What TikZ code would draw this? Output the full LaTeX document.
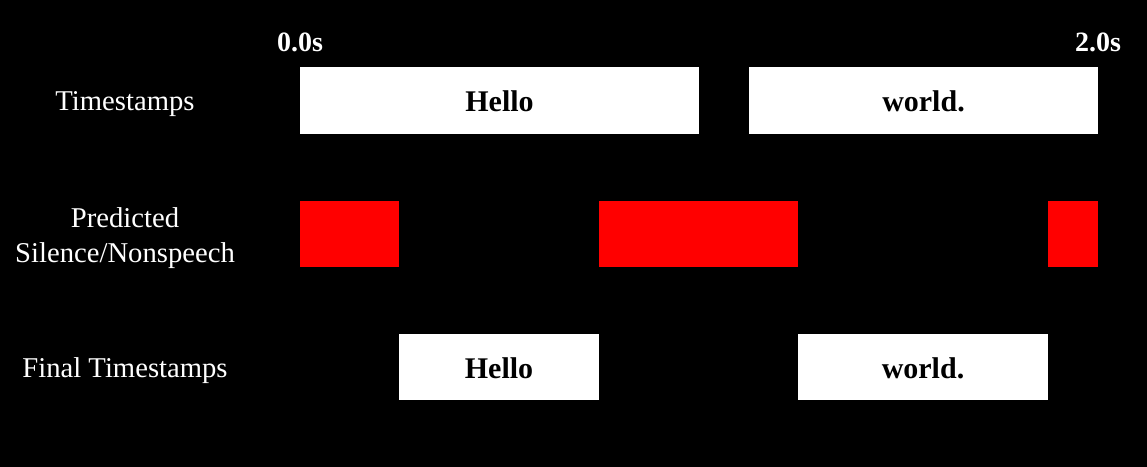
\documentclass[tikz,border=0pt]{standalone}
\usepackage{fontspec}
\setmainfont{Liberation Serif}
\usetikzlibrary{fit}
\begin{document}
\begin{tikzpicture}[x=0.75pt,y=-0.75pt,
        span/.style={fill=white,inner sep=0pt},
        word/.style={text=black,inner sep=0pt,font=\fontsize{22.5}{27}\selectfont\bfseries},
        gap/.style={fill=red,inner sep=0pt},
        rowlabel/.style={text=white,align=center,font=\fontsize{21.5}{26.25}\selectfont},
        tick/.style={text=white,font=\fontsize{21}{26}\selectfont\bfseries}]
        \fill[black] (0,0) rectangle (1147,467);
        % time axis ends
        \node[tick,anchor=base] (start) at (300,52) {0.0s};
        \node[tick,anchor=base] (end) at (1098,52) {2.0s};
        % row labels
        \node[rowlabel,anchor=base] (lblts) at (125,111) {Timestamps};
        \node[rowlabel] (lblsil) at (125,238) {Predicted\\Silence/Nonspeech};
        \node[rowlabel,anchor=base] (lblfinal) at (125,377) {Final Timestamps};
        % raw word timestamps
        \node[span,fit={(300,67)(699,134)}] (hello) {};
        \node[span,fit={(749,67)(1098,134)}] (world) {};
        \node[word,anchor=base] at ([yshift=-8.5pt]hello.center) {Hello};
        \node[word,anchor=base] at ([yshift=-8.5pt]world.center) {world.};
        % silence spans
        \node[gap,fit={(300,201)(399,267)}] (sila) {};
        \node[gap,fit={(599,201)(798,267)}] (silb) {};
        \node[gap,fit={(1048,201)(1098,267)}] (silc) {};
        % trimmed word timestamps
        \node[span,fit={(399,334)(599,400)}] (hellofinal) {};
        \node[span,fit={(798,334)(1048,400)}] (worldfinal) {};
        \node[word,anchor=base] at ([yshift=-8.5pt]hellofinal.center) {Hello};
        \node[word,anchor=base] at ([yshift=-8.5pt]worldfinal.center) {world.};
\end{tikzpicture}
\end{document}
